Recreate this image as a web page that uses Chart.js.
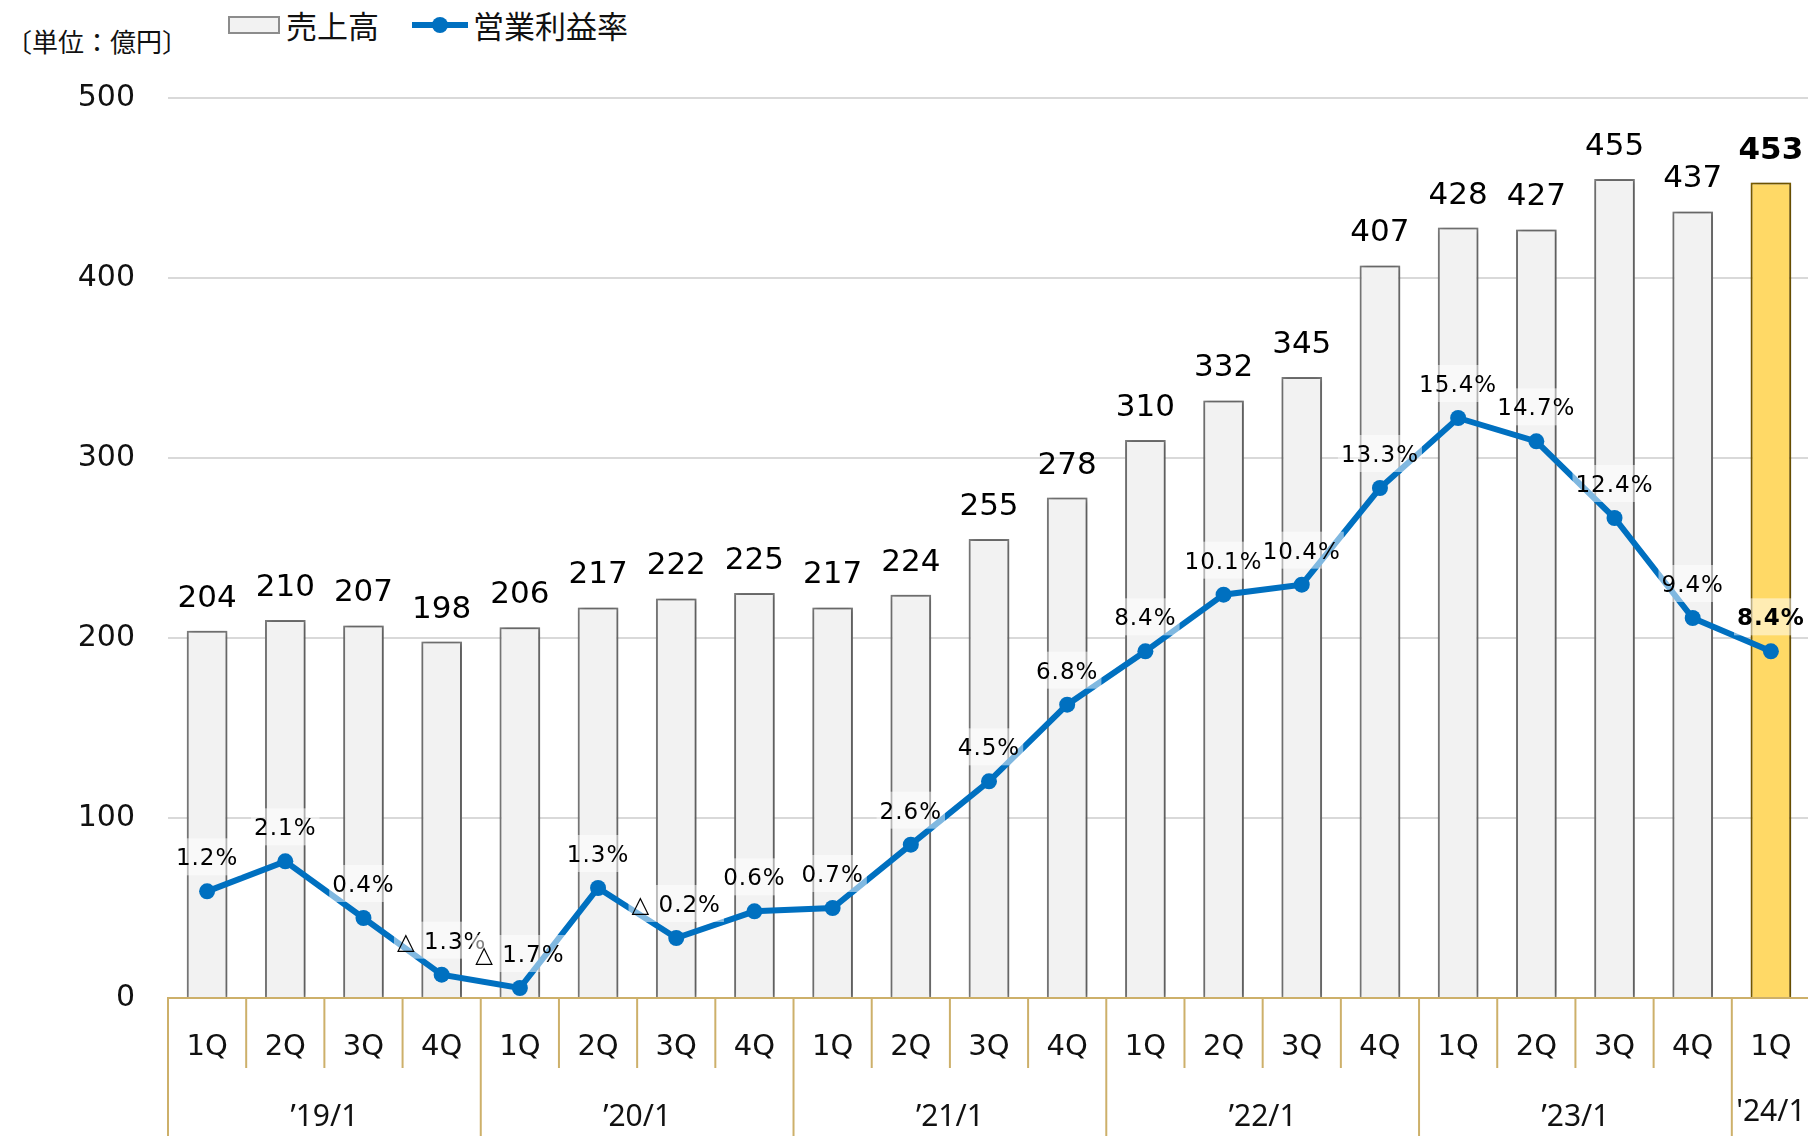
<!DOCTYPE html>
<html lang="ja">
<head>
<meta charset="utf-8">
<title>売上高・営業利益率</title>
<script src="https://cdn.jsdelivr.net/npm/chart.js@4.4.1/dist/chart.umd.min.js"></script>
<style>
  body { margin: 0; overflow: hidden; background: #fff; font-family: "Noto Sans CJK JP", "Noto Sans", sans-serif; }
  #wrap { position: absolute; left: 0; top: 0; width: 1818px; height: 1136px; }
  .unit { position: absolute; left: 6px; top: 25px; font-size: 26px; line-height: 32px; color: #111; }
  .legend-text { position: absolute; top: 7px; font-size: 31px; line-height: 36px; color: #111; }
  .legend-box { position: absolute; left: 228px; top: 16px; width: 52px; height: 18px; box-sizing: border-box; background: #f2f2f2; border: 2px solid #8c8c8c; }
  .legend-line { position: absolute; left: 412px; top: 22px; width: 56px; height: 6px; background: #0070c0; }
  .legend-dot { position: absolute; left: 432px; top: 17px; width: 16px; height: 16px; border-radius: 50%; background: #0070c0; }
</style>
</head>
<body>
<div class="unit">〔単位：億円〕</div>
<div class="legend-box"></div>
<div class="legend-text" style="left:286px">売上高</div>
<div class="legend-line"></div>
<div class="legend-dot"></div>
<div class="legend-text" style="left:473px">営業利益率</div>
<div id="wrap"><canvas id="myChart"></canvas></div>

<script>
// quarter labels under each bar
const quarters = ['1Q','2Q','3Q','4Q','1Q','2Q','3Q','4Q','1Q','2Q','3Q','4Q','1Q','2Q','3Q','4Q','1Q','2Q','3Q','4Q','1Q'];
// fiscal year groups (label, number of quarters)
const yearLabels = ['’19/1','’20/1','’21/1','’22/1','’23/1',"'24/1"];
const yearSizes = [4, 4, 4, 4, 4, 1];
// 売上高 (億円)
const sales = [204,210,207,198,206,217,222,225,217,224,255,278,310,332,345,407,428,427,455,437,453];
// 営業利益率 (%)
const margin = [1.2,2.1,0.4,-1.3,-1.7,1.3,-0.2,0.6,0.7,2.6,4.5,6.8,8.4,10.1,10.4,13.3,15.4,14.7,12.4,9.4,8.4];

const lastIdx = sales.length - 1;
const gold = '#cdb06a';
const labelFont = '"DejaVu Sans", Verdana, sans-serif';

// formats margin like the source: negatives get a triangle
function pctText(v){
  if(v < 0) return '△ ' + Math.abs(v).toFixed(1) + '%';
  return v.toFixed(1) + '%';
}

// soft shadow around the gray bars
const barShadow = {
  id: 'barShadow',
  beforeDatasetDraw(chart, args){
    if(args.index !== 0) return;
    const ctx = chart.ctx;
    ctx.save();
    ctx.shadowColor = 'rgba(0,0,0,0.45)';
    ctx.shadowBlur = 6;
    ctx.shadowOffsetX = 1;
  },
  afterDatasetDraw(chart, args){
    if(args.index !== 0) return;
    chart.ctx.restore();
  }
};

// value labels for bars and the margin line
const valueLabels = {
  id: 'valueLabels',
  afterDatasetsDraw(chart){
    const ctx = chart.ctx;
    const bars = chart.getDatasetMeta(0).data;
    const pts = chart.getDatasetMeta(1).data;
    ctx.save();
    ctx.fillStyle = '#000';
    ctx.textAlign = 'center';
    ctx.textBaseline = 'alphabetic';

    bars.forEach((bar, i) => {
      ctx.font = (i === lastIdx ? 'bold ' : '') + '31px ' + labelFont;
      ctx.fillText(String(sales[i]), bar.x, bar.y - 24);
    });

    pts.forEach((pt, i) => {
      const txt = pctText(margin[i]);
      ctx.font = (i === lastIdx ? 'bold ' : '') + '23px ' + labelFont;
      ctx.letterSpacing = '1px';
      const w = ctx.measureText(txt).width;
      const base = pt.y - 26;
      ctx.fillStyle = 'rgba(255,255,255,0.5)';
      ctx.fillRect(pt.x - w / 2 - 3, base - 27, w + 6, 37);
      ctx.fillStyle = '#000';
      ctx.fillText(txt, pt.x, base);
    });
    ctx.restore();
  }
};

// category separators and the fiscal year row
const yearAxis = {
  id: 'yearAxis',
  afterDraw(chart){
    const ctx = chart.ctx;
    const x = chart.scales.x;
    const w = x.width / quarters.length;
    const top = x.top;
    ctx.save();
    ctx.strokeStyle = gold;
    ctx.lineWidth = 2;
    let start = 0;
    const bounds = [0];
    yearSizes.forEach(n => { start += n; bounds.push(start); });
    for(let i = 0; i <= quarters.length; i++){
      const px = x.getPixelForValue(i) - w / 2;
      const long = bounds.includes(i);
      ctx.beginPath();
      ctx.moveTo(px, top);
      ctx.lineTo(px, long ? chart.height : top + 70);
      ctx.stroke();
    }

    ctx.fillStyle = '#111';
    ctx.font = '30px "Noto Sans", sans-serif';
    ctx.textAlign = 'center';
    ctx.textBaseline = 'middle';
    let first = 0;
    yearLabels.forEach((lab, g) => {
      const last = first + yearSizes[g] - 1;
      const cx = (x.getPixelForValue(first) + x.getPixelForValue(last)) / 2;
      const cy = g === yearLabels.length - 1 ? 1112 : 1117;
      ctx.fillText(lab, cx, cy);
      first += yearSizes[g];
    });
    ctx.restore();
  }
};

const barFill = sales.map((v, i) => i === lastIdx ? '#ffd966' : '#f2f2f2');
const barBorder = sales.map((v, i) => i === lastIdx ? '#7f6000' : '#808080');

const data = {
  labels: quarters,
  datasets: [
    {
      type: 'bar',
      label: '売上高',
      data: sales,
      backgroundColor: barFill,
      borderColor: barBorder,
      borderWidth: 2,
      categoryPercentage: 1,
      barPercentage: 0.52,
      yAxisID: 'y',
      order: 2
    },
    {
      type: 'line',
      label: '営業利益率',
      data: margin,
      borderColor: '#0070c0',
      backgroundColor: '#0070c0',
      borderWidth: 6,
      pointRadius: 8,
      pointHoverRadius: 8,
      pointBackgroundColor: '#0070c0',
      pointBorderWidth: 0,
      tension: 0,
      yAxisID: 'y2',
      order: 1
    }
  ]
};

const config = {
  data: data,
  options: {
    responsive: true,
    maintainAspectRatio: false,
    animation: false,
    layout: { padding: { top: 98, left: 0, right: 0, bottom: 0 } },
    plugins: {
      legend: { display: false },
      tooltip: { enabled: false }
    },
    scales: {
      x: {
        // invisible tick marks push the quarter labels down without adding side padding
        grid: { display: true, drawOnChartArea: false, drawTicks: true, tickLength: 32, tickColor: 'rgba(0,0,0,0)' },
        border: { display: true, color: gold, width: 2 },
        ticks: {
          color: '#111',
          padding: 0,
          maxRotation: 0,
          autoSkip: false,
          font: { family: labelFont, size: 29 }
        },
        afterFit(s){ s.height = 138; }
      },
      y: {
        position: 'left',
        min: 0,
        max: 500,
        grid: { color: '#d9d9d9', lineWidth: 2, drawTicks: false },
        border: { display: false },
        ticks: {
          stepSize: 100,
          padding: 33,
          color: '#111',
          font: { family: labelFont, size: 30 }
        },
        afterFit(s){ s.width = 168; }
      },
      y2: {
        display: false,
        min: -2,
        max: 25
      }
    }
  },
  plugins: [barShadow, valueLabels, yearAxis]
};

new Chart(document.getElementById('myChart'), config);
</script>
</body>
</html>
